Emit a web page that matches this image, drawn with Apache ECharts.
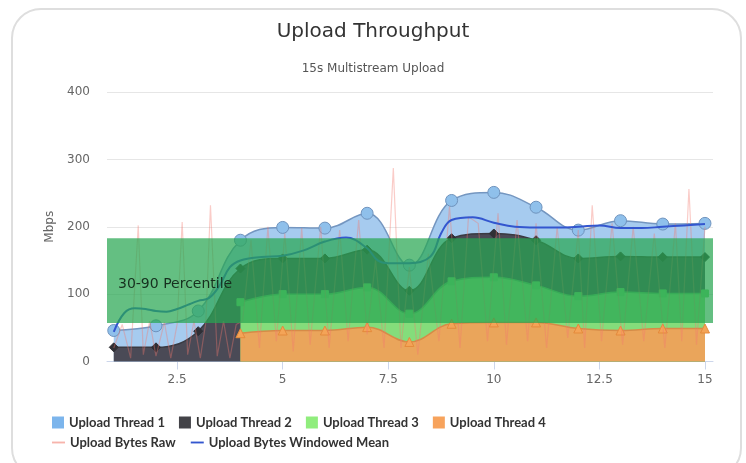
<!DOCTYPE html>
<html>
<head>
<meta charset="utf-8">
<script src="https://cdn.jsdelivr.net/npm/echarts@6/dist/echarts.min.js"></script>
<style>
  html, body { margin: 0; padding: 0; background: #fff; }
  #card {
    position: absolute; left: 11px; top: 8px; width: 731px; height: 470px;
    border: 2px solid #dedede; border-radius: 30px; box-sizing: border-box;
  }
  #chart { position: absolute; left: 0; top: 0; width: 746px; height: 463px; }
</style>
</head>
<body>
<div id="card"></div>
<div id="chart"></div>
<script>
// seconds into the test (one point per thread per second)
const times = [1, 2, 3, 4, 5, 6, 7, 8, 9, 10, 11, 12, 13, 14, 15];

// per-thread upload rate, Mbps (threads 3 and 4 start at 4 s)
const thread1 = [25, 32, 30, 42, 46, 45, 54, 38, 56, 61, 49, 42, 53, 49, 50];
const thread2 = [21, 21, 45, 50, 53, 53, 56, 34, 64, 65, 67, 56, 53, 54, 54];
const thread3 = [null, null, null, 46, 54, 54, 59, 42, 63, 67, 55, 48, 57, 52, 52];
const thread4 = [null, null, null, 42, 46, 46, 51, 29, 56, 58, 58, 49, 46, 49, 49];

// raw byte samples (time, Mbps)
const rawTimes = [
  1.0, 1.2, 1.4, 1.58, 1.7, 1.85, 2.0, 2.2, 2.35, 2.5, 2.62, 2.75, 2.9, 3.05, 3.18, 3.29,
  3.45, 3.6, 3.75, 3.9, 4.05, 4.25, 4.45, 4.65, 4.85, 5.05, 5.25, 5.45, 5.65, 5.9, 6.1,
  6.35, 6.55, 6.8, 7.0, 7.2, 7.4, 7.62, 7.8, 8.0, 8.2, 8.45, 8.7, 8.95, 9.2, 9.4, 9.63,
  9.85, 10.1, 10.3, 10.55, 10.8, 11.0, 11.25, 11.5, 11.75, 12.0, 12.15, 12.33, 12.55,
  12.8, 13.05, 13.3, 13.55, 13.8, 14.05, 14.3, 14.45, 14.62, 14.8, 15.0
];
const rawValues = [
  20, 55, 5, 202, 10, 60, 8, 58, 5, 55, 207, 10, 60, 5, 58, 232,
  8, 60, 5, 55, 60, 180, 20, 200, 30, 190, 15, 198, 25, 200, 20,
  195, 30, 210, 40, 150, 20, 287, 20, 140, 10, 160, 30, 230, 20, 215, 205,
  30, 220, 25, 210, 30, 205, 20, 200, 35, 195, 20, 232, 30,
  205, 25, 200, 30, 190, 20, 205, 30, 256, 25, 200
];

// windowed mean of the raw samples
const meanTimes = [
  1.0, 1.25, 1.5, 1.75, 2.0, 2.25, 2.5, 2.75, 3.0, 3.25, 3.5, 3.75, 4.0, 4.5, 5.0, 5.5,
  6.0, 6.5, 7.0, 7.25, 7.5, 8.0, 8.5, 8.75, 9.0, 9.5, 10.0, 10.5, 11.0, 11.5, 12.0,
  12.5, 13.0, 13.5, 14.0, 14.5, 15.0
];
const meanValues = [
  44, 72, 79, 78, 75, 74, 78, 84, 90, 94, 112, 140, 150, 155, 157, 165,
  178, 184, 168, 150, 146, 146, 156, 190, 210, 214, 206, 200, 199, 199, 200,
  202, 198, 198, 200, 202, 204
];

// 30th-90th percentile band
const percentileBand = [57, 183];

const xTicks = [2.5, 5, 7.5, 10, 12.5, 15];

const FONT = 'DejaVu Sans';
const threads = [
  { name: 'Upload Thread 1', values: thread1, fill: '#a6cbef', line: '#7496c0', dot: '#8fc0eb', edge: '#6f93bd', legend: '#7cb5ec', symbol: 'circle', size: 12 },
  { name: 'Upload Thread 2', values: thread2, fill: '#4a4a56', line: '#3a3a42', dot: '#2f2f35', edge: '#2f2f35', legend: '#434348', symbol: 'diamond', size: 9 },
  { name: 'Upload Thread 3', values: thread3, fill: '#84dd7b', line: '#5fb865', dot: '#6fd66f', edge: '#6fd66f', legend: '#90ed7d', symbol: 'rect', size: 7 },
  { name: 'Upload Thread 4', values: thread4, fill: '#eaa55b', line: '#d68b47', dot: '#f4a457', edge: '#e48a3c', legend: '#f7a35c', symbol: 'triangle', size: 9 }
];

// cumulative tops, thread 4 at the bottom of the stack
function stackTop(idx) {
  return times.map((t, i) => {
    if (threads[idx].values[i] == null) return [t, null];
    let sum = 0;
    for (let k = idx; k < threads.length; k++) {
      const v = threads[k].values[i];
      if (v != null) sum += v;
    }
    return [t, sum];
  });
}

const chart = echarts.init(document.getElementById('chart'));

const series = threads.map((th, idx) => ({
  name: th.name,
  type: 'line',
  data: stackTop(idx),
  smooth: 0.4,
  symbol: th.symbol,
  symbolSize: th.size,
  showSymbol: true,
  z: 2 + idx,
  itemStyle: { color: th.dot, borderColor: th.edge, borderWidth: 1 },
  lineStyle: { color: th.line, width: 1.5 },
  areaStyle: { color: th.fill, opacity: 1, origin: 'start' }
}));

series.push({
  name: 'Upload Bytes Raw',
  type: 'line',
  data: rawTimes.map((t, i) => [t, rawValues[i]]),
  showSymbol: false,
  z: 7,
  itemStyle: { color: '#f5a59c' },
  lineStyle: { color: 'rgba(242,120,110,0.38)', width: 1.2 }
});

series.push({
  name: 'Upload Bytes Windowed Mean',
  type: 'line',
  data: meanTimes.map((t, i) => [t, meanValues[i]]),
  smooth: 0.4,
  showSymbol: false,
  z: 8,
  itemStyle: { color: '#3356cf' },
  lineStyle: { color: '#3356cf', width: 2 },
  markArea: {
    silent: true,
    z: 20,
    itemStyle: { color: 'rgba(40,166,82,0.72)' },
    label: {
      show: true,
      position: 'insideLeft',
      distance: 11,
      offset: [0, 4],
      color: '#17301f',
      fontFamily: FONT,
      fontSize: 14
    },
    data: [[{ name: '30-90 Percentile', yAxis: percentileBand[0] }, { yAxis: percentileBand[1] }]]
  }
});

const lineIcon = 'path://M0,5 L14,5 L14,7 L0,7 Z';
const legendText = { fontFamily: 'Lato', fontWeight: 'bold', fontSize: 13, color: '#333' };

chart.setOption({
  animation: false,
  backgroundColor: 'transparent',
  textStyle: { fontFamily: FONT },
  title: [
    { text: 'Upload Throughput', left: 'center', top: 17,
      textStyle: { fontFamily: FONT, fontWeight: 'normal', fontSize: 20, color: '#333' } },
    { text: '15s Multistream Upload', left: 'center', top: 58,
      textStyle: { fontFamily: FONT, fontWeight: 'normal', fontSize: 12, color: '#555' } }
  ],
  legend: [
    {
      left: 52, top: 416, padding: 0, itemWidth: 12, itemHeight: 12, itemGap: 14,
      textStyle: legendText,
      data: threads.map(th => ({ name: th.name, icon: 'rect', itemStyle: { color: th.legend, borderWidth: 0 } }))
    },
    {
      left: 52, top: 436, padding: 0, itemWidth: 13, itemHeight: 12, itemGap: 15,
      textStyle: legendText,
      data: [
        { name: 'Upload Bytes Raw', icon: lineIcon, itemStyle: { color: '#f7b4ac' } },
        { name: 'Upload Bytes Windowed Mean', icon: lineIcon, itemStyle: { color: '#3356cf' } }
      ]
    }
  ],
  grid: { left: 107, right: 33, top: 92, bottom: 101.5 },
  xAxis: {
    type: 'value',
    min: 0.84,
    max: 15.19,
    splitLine: { show: false },
    axisLine: { lineStyle: { color: '#ccd6eb' } },
    axisTick: { show: true, length: 8, customValues: xTicks, lineStyle: { color: '#ccd6eb' } },
    axisLabel: { customValues: xTicks, color: '#666', fontFamily: FONT, fontSize: 12, margin: 12 }
  },
  yAxis: {
    type: 'value',
    min: 0,
    max: 400,
    interval: 100,
    name: 'Mbps',
    nameLocation: 'middle',
    nameGap: 46,
    nameTextStyle: { color: '#666', fontFamily: FONT, fontSize: 12 },
    axisLine: { show: false },
    axisTick: { show: false },
    splitLine: { lineStyle: { color: '#e6e6e6' } },
    axisLabel: { color: '#666', fontFamily: FONT, fontSize: 12, margin: 17 }
  },
  series: series
});
</script>
</body>
</html>
